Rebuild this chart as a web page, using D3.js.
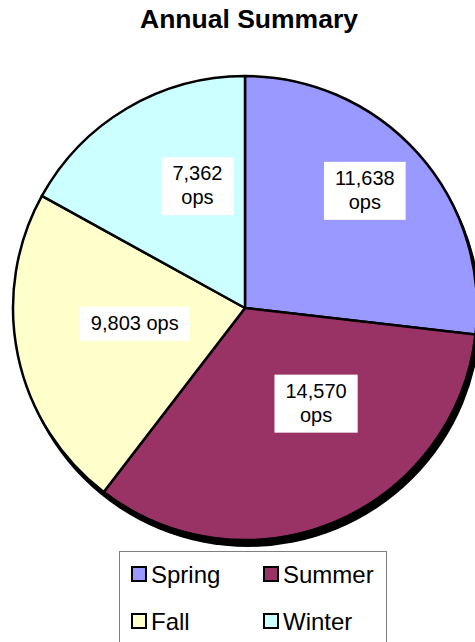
<!DOCTYPE html>
<html>
<head>
<meta charset="utf-8">
<script src="https://cdn.jsdelivr.net/npm/d3@7"></script>
<style>
	body { margin: 0; background: #fff; }
	svg { display: block; font-family: Arial, "Liberation Sans", sans-serif; }
</style>
</head>
<body>
<div id="chartDiv"></div>
<script>
// data
const seasons = ["Spring", "Summer", "Fall", "Winter"];
const opsValues = [11638, 14570, 9803, 7362];
const titleText = "Annual Summary";

;(function() {

	const COLORS = {
		Spring: "#9999FF",
		Summer: "#993366",
		Fall: "#FFFFCC",
		Winter: "#CCFFFF"
	};

	var width = 475;
	var height = 642;
	var center = { x: 245, y: 308 };
	var radius = 232;
	var labelRadius = 131;
	// label placement tweaks (excel nudges its labels around)
	var labelNudge = [[22, -30], [20, -25], [18, -11], [19, -9]];
	var labelWrap = [true, true, false, true];

	var data = seasons.map((s, i) => ({ name: s, value: opsValues[i] }));
	var fmt = d3.format(",");

	var chart = d3.select("#chartDiv").append("svg")
		.attr("width", width)
		.attr("height", height);

	// title
	chart.append("text")
		.attr("x", 249)
		.attr("y", 28)
		.attr("text-anchor", "middle")
		.style("font-size", "26.5px")
		.style("font-weight", "bold")
		.text(titleText);

	var pie = d3.pie().sort(null).value(d => d.value);
	var arcs = pie(data);

	var arc = d3.arc().innerRadius(0).outerRadius(radius);
	var labelArc = d3.arc().innerRadius(labelRadius).outerRadius(labelRadius);

	var plot = chart.append("g")
		.attr("transform", "translate(" + center.x + "," + center.y + ")");

	// drop shadow
	plot.append("circle")
		.attr("cx", 3)
		.attr("cy", 6)
		.attr("r", radius + 1)
		.attr("fill", "#000");

	plot.selectAll(".slice")
		.data(arcs)
		.enter().append("path")
			.attr("class", "slice")
			.attr("d", arc)
			.attr("fill", d => COLORS[d.data.name])
			.attr("stroke", "#000")
			.attr("stroke-width", 2.5)
			.attr("stroke-linejoin", "round");

	// labels
	arcs.forEach(function(d, i) {
		var c = labelArc.centroid(d);
		var x = c[0] + labelNudge[i][0];
		var y = c[1] + labelNudge[i][1];
		var lines = labelWrap[i] ? [fmt(d.data.value), "ops"] : [fmt(d.data.value) + " ops"];

		var g = plot.append("g").attr("transform", "translate(" + x + "," + y + ")");
		var box = g.append("rect").attr("fill", "#fff");
		var t = g.append("text")
			.attr("text-anchor", "middle")
			.style("font-size", "20px")
			.attr("fill", "#000");
		var lh = 24;
		var top = -(lines.length * lh) / 2;
		lines.forEach(function(l, k) {
			t.append("tspan")
				.attr("x", 0)
				.attr("y", top + lh * k + 18)
				.text(l);
		});
		var bb = t.node().getBBox();
		var padX = 11, padY = 5;
		box.attr("x", bb.x - padX)
			.attr("y", top - padY)
			.attr("width", bb.width + padX * 2)
			.attr("height", lines.length * lh + padY * 2);
	});

	// legend
	var legend = chart.append("g");
	legend.append("rect")
		.attr("x", 119.5)
		.attr("y", 551.5)
		.attr("width", 267)
		.attr("height", 110)
		.attr("fill", "#fff")
		.attr("stroke", "#808080")
		.attr("stroke-width", 1);

	var legendPos = [[132, 567], [264, 567], [132, 614], [264, 614]];
	seasons.forEach(function(s, i) {
		var p = legendPos[i];
		legend.append("rect")
			.attr("x", p[0])
			.attr("y", p[1])
			.attr("width", 14)
			.attr("height", 14)
			.attr("fill", COLORS[s])
			.attr("stroke", "#000")
			.attr("stroke-width", 2);
		legend.append("text")
			.attr("x", p[0] + 19)
			.attr("y", p[1] + 16)
			.style("font-size", "24px")
			.text(s);
	});

})();
</script>
</body>
</html>
